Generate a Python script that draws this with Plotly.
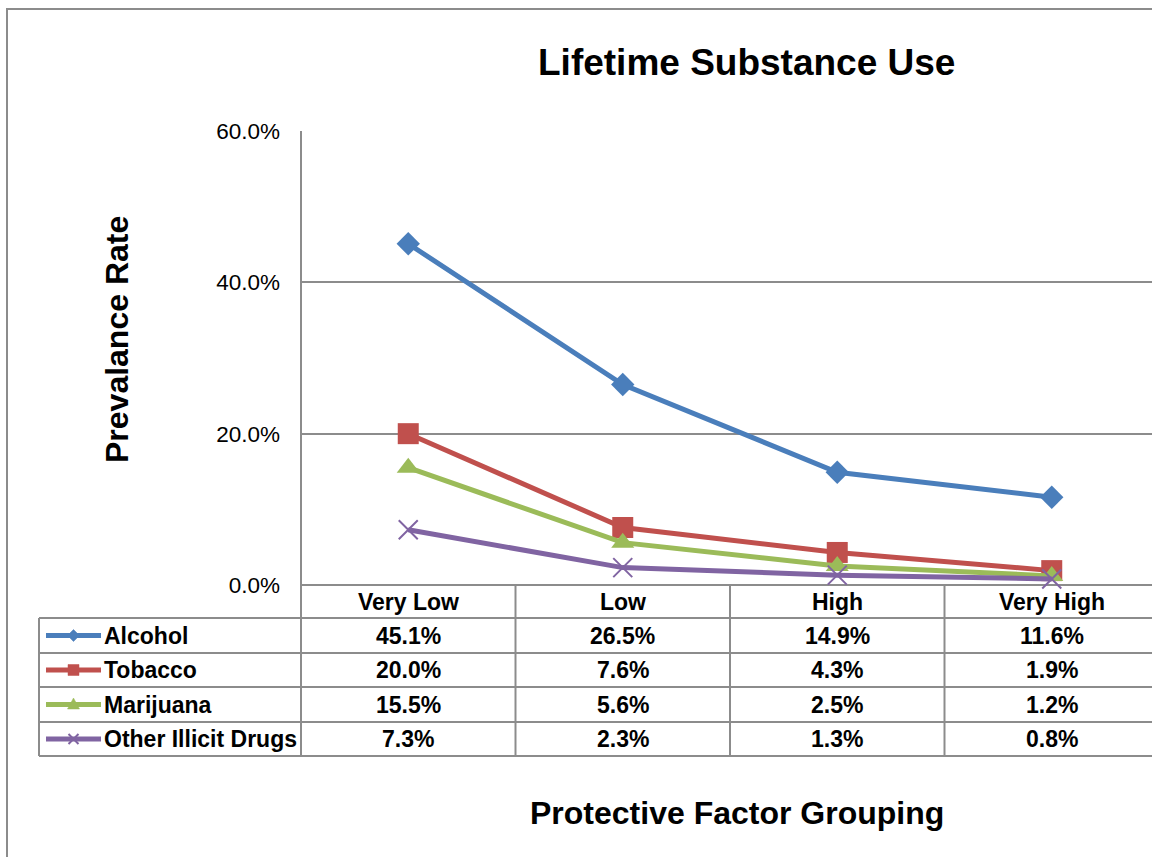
import plotly.graph_objects as go

# ---- data ----
categories = ["Very Low", "Low", "High", "Very High"]
series_names = ["Alcohol", "Tobacco", "Marijuana", "Other Illicit Drugs"]
alcohol = [45.1, 26.5, 14.9, 11.6]
tobacco = [20.0, 7.6, 4.3, 1.9]
marijuana = [15.5, 5.6, 2.5, 1.2]
other_drugs = [7.3, 2.3, 1.3, 0.8]
y_ticks = [0, 20, 40, 60]

series_values = [alcohol, tobacco, marijuana, other_drugs]

# ---- styling ----
W, H = 1152, 857
FONT = "Arial, Liberation Sans, sans-serif"
GRID = "#8c8c8c"
colors = ["#4A7EBB", "#C0504D", "#9BBB59", "#8064A2"]
symbols = ["diamond", "square", "triangle-up", "x-thin"]
sizes = [18, 21, 20, 19]
TABLE_FONT = 23

# small marker glyphs for the legend keys (pixel paths around the key centre)
key_paths = [
    ("M -6 0 L 0 6 L 6 0 L 0 -6 Z", True),
    ("M -5.5 -5.5 L 5.5 -5.5 L 5.5 5.5 L -5.5 5.5 Z", True),
    ("M -6 -4.5 L 6 -4.5 L 0 6.5 Z", True),
    ("M -5 -5 L 5 5 M -5 5 L 5 -5", False),
]

# plot area in pixels
PL, PT, PB = 301, 131, 585
PW, PH = W - PL, PB - PT
Y_MAX = 60
# table rows (pixels)
row_edges = [585, 618, 653, 687, 722, 756]
TABLE_LEFT = 39
n = len(categories)
CAT_W = 214.5  # pixel width of one category column


def px(x):
    """page pixel x -> paper x"""
    return (x - PL) / PW


def py(y):
    """page pixel y -> paper y"""
    return (PB - y) / PH


def dx(x):
    """page pixel x -> data x"""
    return -0.5 + (x - PL) / CAT_W


fig = go.Figure()

for name, vals, col, sym, sz in zip(series_names, series_values, colors, symbols, sizes):
    mk = dict(symbol=sym, size=sz, color=col)
    if sym == "x-thin":
        mk["line"] = dict(color=col, width=2)
    fig.add_trace(go.Scatter(
        x=list(range(n)), y=vals, name=name, mode="lines+markers",
        line=dict(color=col, width=5), marker=mk, showlegend=False,
        cliponaxis=False,
    ))

line_style = dict(color=GRID, width=2)

# legend keys in the table's first column
for i, (name, col, (path, filled)) in enumerate(zip(series_names, colors, key_paths)):
    yc = (row_edges[i + 1] + row_edges[i + 2]) / 2
    fig.add_shape(type="line", xref="paper", yref="paper",
                  x0=px(46), x1=px(101), y0=py(yc), y1=py(yc),
                  line=dict(color=col, width=5))
    fig.add_shape(type="path", xref="paper", yref="paper",
                  xsizemode="pixel", ysizemode="pixel",
                  xanchor=px(73.5), yanchor=py(yc), path=path,
                  fillcolor=col if filled else "rgba(0,0,0,0)",
                  line=dict(color=col, width=2 if not filled else 0.5))
    fig.add_annotation(
        x=px(102), y=py(yc), xref="paper", yref="paper", text=f"<b>{name}</b>",
        showarrow=False, xanchor="left", yanchor="middle",
        font=dict(family=FONT, size=TABLE_FONT, color="black"),
    )

fig.update_layout(
    width=W, height=H,
    margin=dict(l=PL, r=0, t=PT, b=H - PB, autoexpand=False),
    paper_bgcolor="white", plot_bgcolor="white",
    xaxis=dict(
        range=[-0.5, dx(W)],
        showgrid=False, showticklabels=False, zeroline=False, showline=False,
        fixedrange=True,
    ),
    yaxis=dict(
        range=[0, Y_MAX], tickvals=y_ticks,
        ticktext=[f"{v:.1f}%" for v in y_ticks],
        showgrid=True, gridcolor=GRID, gridwidth=1.5, zeroline=False,
        showline=False, ticks="", ticklabelstandoff=20,
        tickfont=dict(family=FONT, size=22.5, color="black"),
        fixedrange=True,
    ),
)

# outer chart border (runs past the visible page on right/bottom)
fig.add_shape(type="rect", xref="paper", yref="paper",
              x0=px(7), x1=px(W + 20), y0=py(9), y1=py(H + 20),
              line=line_style, layer="below")

# vertical axis line continuing through the table
fig.add_shape(type="line", xref="paper", yref="paper",
              x0=0, x1=0, y0=1, y1=py(row_edges[-1]), line=line_style)
# table left edge (legend column)
fig.add_shape(type="line", xref="paper", yref="paper",
              x0=px(TABLE_LEFT), x1=px(TABLE_LEFT), y0=py(row_edges[1]), y1=py(row_edges[-1]),
              line=line_style)
# horizontal table rules
for k, ye in enumerate(row_edges):
    x0 = 0 if k == 0 else px(TABLE_LEFT)
    fig.add_shape(type="line", xref="paper", yref="paper",
                  x0=x0, x1=1.02, y0=py(ye), y1=py(ye), line=line_style, layer="below")
# column separators at category boundaries
for k in range(1, n + 1):
    fig.add_shape(type="line", xref="x", yref="paper",
                  x0=k - 0.5, x1=k - 0.5, y0=py(row_edges[0]), y1=py(row_edges[-1]),
                  line=line_style)

# header and values in the table
for j, cat in enumerate(categories):
    yc = (row_edges[0] + row_edges[1]) / 2
    fig.add_annotation(x=j, y=py(yc), xref="x", yref="paper", text=f"<b>{cat}</b>",
                       showarrow=False, xanchor="center", yanchor="middle",
                       font=dict(family=FONT, size=TABLE_FONT, color="black"))
    for i, vals in enumerate(series_values):
        yc = (row_edges[i + 1] + row_edges[i + 2]) / 2
        fig.add_annotation(x=j, y=py(yc), xref="x", yref="paper",
                           text=f"<b>{vals[j]:.1f}%</b>", showarrow=False,
                           xanchor="center", yanchor="middle",
                           font=dict(family=FONT, size=TABLE_FONT, color="black"))

# titles
fig.add_annotation(x=px(746), y=py(62), xref="paper", yref="paper",
                   text="<b>Lifetime Substance Use</b>", showarrow=False,
                   xanchor="center", yanchor="middle",
                   font=dict(family=FONT, size=37, color="black"))
fig.add_annotation(x=px(117), y=py(340), xref="paper", yref="paper",
                   text="<b>Prevalance Rate</b>", showarrow=False, textangle=-90,
                   xanchor="center", yanchor="middle",
                   font=dict(family=FONT, size=32, color="black"))
fig.add_annotation(x=px(737), y=py(813), xref="paper", yref="paper",
                   text="<b>Protective Factor Grouping</b>", showarrow=False,
                   xanchor="center", yanchor="middle",
                   font=dict(family=FONT, size=32, color="black"))

fig.write_html("out.html")
